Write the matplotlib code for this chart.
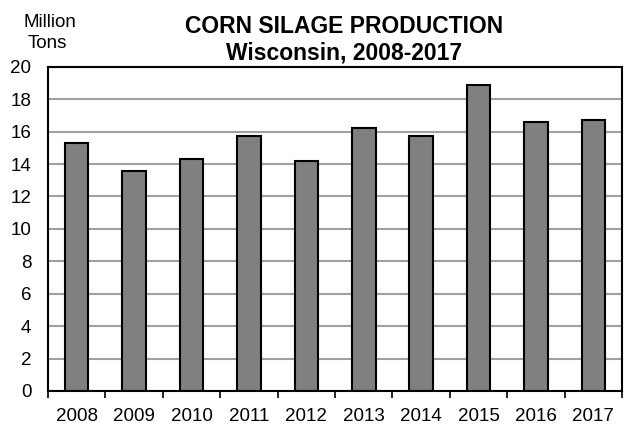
#!/usr/bin/env python

import numpy as np
from matplotlib import pyplot as plt

plt.rcParams['font.family'] = ['Liberation Sans', 'DejaVu Sans']

# Wisconsin corn silage production, million tons
years = ["2008", "2009", "2010", "2011", "2012", "2013", "2014", "2015", "2016", "2017"]
production = [15.3, 13.6, 14.3, 15.7, 14.2, 16.2, 15.7, 18.9, 16.6, 16.7]
y_ticks = [0, 2, 4, 6, 8, 10, 12, 14, 16, 18, 20]

fig = plt.figure(figsize=(6.26, 4.26), dpi=100)
ax = fig.add_axes([0.0767, 0.0822, 0.917, 0.761])

x = np.arange(len(years))
ax.bar(x, production, width=0.41, color='#808080', edgecolor='black', linewidth=1.5, zorder=3)

ax.set_xlim(-0.5, len(years) - 0.5)
ax.set_ylim(0, 20)
ax.set_yticks(y_ticks)
ax.set_yticklabels([str(t) for t in y_ticks], fontsize=13.5)
ax.set_xticks(x)
ax.set_xticklabels(years, fontsize=13.5)
ax.set_xticks(np.arange(len(years) + 1) - 0.5, minor=True)
ax.tick_params(axis='x', which='major', length=0, pad=12)
ax.tick_params(axis='x', which='minor', length=5, width=1.2, direction='out')
ax.tick_params(axis='y', length=0, pad=12)

ax.yaxis.grid(True, color='#a0a0a0', linewidth=1.5, zorder=0)
for s in ax.spines.values():
    s.set_linewidth(1.5)
    s.set_zorder(4)

fig.text(0.5495, 0.922, "CORN SILAGE PRODUCTION", ha='center', va='baseline',
         fontsize=16.5, fontweight='bold')
fig.text(0.5495, 0.8615, "Wisconsin, 2008-2017", ha='center', va='baseline',
         fontsize=16.5, fontweight='bold')
fig.text(0.080, 0.9366, "Million", ha='center', va='baseline', fontsize=13.5)
fig.text(0.076, 0.887, "Tons", ha='center', va='baseline', fontsize=13.5)

fig.savefig("out.png", dpi=100)
